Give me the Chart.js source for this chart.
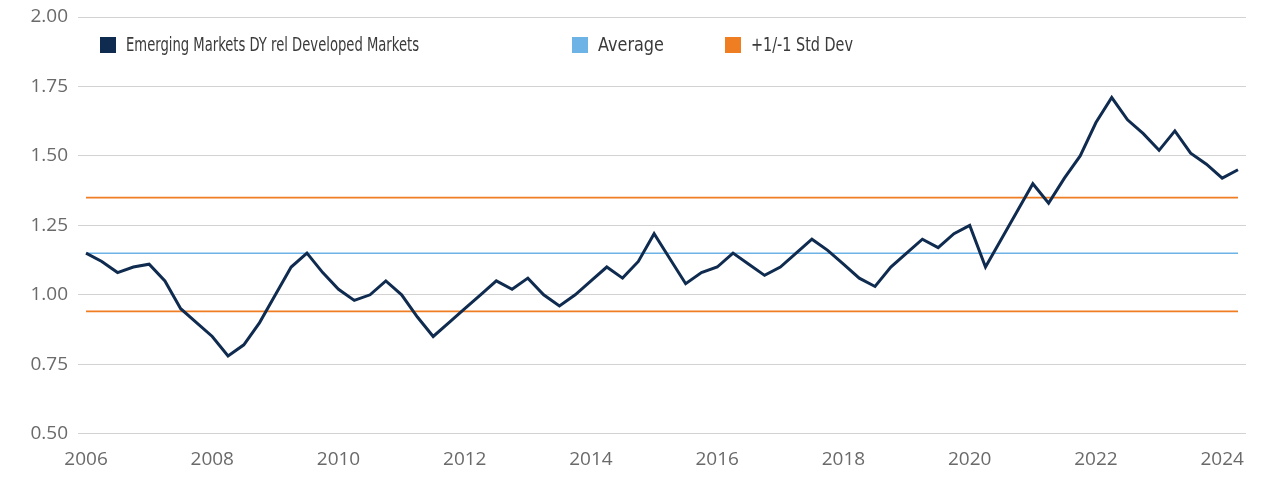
<!DOCTYPE html>
<html>
<head>
<meta charset="utf-8">
<title>EM DY rel DM</title>
<script src="https://cdn.jsdelivr.net/npm/chart.js@4.4.1/dist/chart.umd.min.js"></script>
<style>
  html, body { margin: 0; padding: 0; background: #fff; }
  #wrap { width: 1280px; height: 491px; position: relative; }
</style>
</head>
<body>
<div id="wrap"><canvas id="myChart"></canvas></div>
<script>
//////////////////////
// data
//////////////////////

// quarterly, starting Q1 2006
const startYear = 2006;
const dyRel = [
  1.15, 1.12, 1.08, 1.10, 1.11, 1.05, 0.95, 0.90, 0.85, 0.78,
  0.82, 0.90, 1.00, 1.10, 1.15, 1.08, 1.02, 0.98, 1.00, 1.05,
  1.00, 0.92, 0.85, 0.90, 0.95, 1.00, 1.05, 1.02, 1.06, 1.00,
  0.96, 1.00, 1.05, 1.10, 1.06, 1.12, 1.22, 1.13, 1.04, 1.08,
  1.10, 1.15, 1.11, 1.07, 1.10, 1.15, 1.20, 1.16, 1.11, 1.06,
  1.03, 1.10, 1.15, 1.20, 1.17, 1.22, 1.25, 1.10, 1.20, 1.30,
  1.40, 1.33, 1.42, 1.50, 1.62, 1.71, 1.63, 1.58, 1.52, 1.59,
  1.51, 1.47, 1.42, 1.45
];
const averageValue = 1.15;
const stdUpper = 1.35;
const stdLower = 0.94;
const yearTicks = [2006, 2008, 2010, 2012, 2014, 2016, 2018, 2020, 2022, 2024];
const yTicks = [0.50, 0.75, 1.00, 1.25, 1.50, 1.75, 2.00];
const seriesNames = ['Emerging Markets DY rel Developed Markets', 'Average', '+1/-1 Std Dev'];

const navy = '#0f2b4f';
const lightBlue = '#6db3e5';
const orange = '#ef7d22';

//////////////////////
// build chart data
//////////////////////
const xYears = dyRel.map((v, i) => startYear + i / 4);

function toPoints(vals) {
  return vals.map((v, i) => ({ x: xYears[i], y: v }));
}

const avgLine = dyRel.map(() => averageValue);
const upperLine = dyRel.map(() => stdUpper);
const lowerLine = dyRel.map(() => stdLower);

// legend drawn inside the plot, like the original
const legendPlugin = {
  id: 'insideLegend',
  afterDraw(chart) {
    const ctx = chart.ctx;
    const items = [
      { text: seriesNames[0], color: navy, x: 100, w: 293 },
      { text: seriesNames[1], color: lightBlue, x: 572, w: 66 },
      { text: seriesNames[2], color: orange, x: 725, w: 102 }
    ];
    ctx.save();
    ctx.font = '19px "DejaVu Sans Condensed", "Liberation Sans", sans-serif';
    ctx.textBaseline = 'middle';
    for (let i = 0; i < items.length; i++) {
      const it = items[i];
      ctx.fillStyle = it.color;
      ctx.fillRect(it.x, 37, 16, 16);
      ctx.fillStyle = '#3a3a3a';
      ctx.fillText(it.text, it.x + 26, 46, it.w);
    }
    ctx.restore();
  }
};

const tickFont = { family: '"Open Sans", sans-serif', size: 19 };

const config = {
  type: 'line',
  data: {
    datasets: [
      {
        label: seriesNames[0],
        data: toPoints(dyRel),
        borderColor: navy,
        borderWidth: 3,
        pointRadius: 0,
        tension: 0,
        order: 0
      },
      {
        label: seriesNames[1],
        data: toPoints(avgLine),
        borderColor: lightBlue,
        borderWidth: 1.5,
        pointRadius: 0,
        order: 2
      },
      {
        label: seriesNames[2],
        data: toPoints(upperLine),
        borderColor: orange,
        borderWidth: 1.8,
        pointRadius: 0,
        order: 1
      },
      {
        label: seriesNames[2] + ' (lower)',
        data: toPoints(lowerLine),
        borderColor: orange,
        borderWidth: 1.8,
        pointRadius: 0,
        order: 1
      }
    ]
  },
  options: {
    responsive: true,
    maintainAspectRatio: false,
    animation: false,
    layout: { padding: { left: 0, right: 34, top: 17, bottom: 0 } },
    plugins: {
      legend: { display: false },
      tooltip: { enabled: false }
    },
    scales: {
      x: {
        type: 'linear',
        min: 2005.873,
        max: 2024.377,
        afterBuildTicks: (scale) => {
          scale.ticks = yearTicks.map(v => ({ value: v }));
        },
        afterFit: (scale) => {
          scale.height = 57.3;
          scale.paddingLeft = 0;
          scale.paddingRight = 0;
        },
        grid: { display: false, drawTicks: false },
        border: { display: false },
        ticks: {
          font: tickFont,
          color: '#6a6a6a',
          padding: 14,
          maxRotation: 0,
          autoSkip: false,
          callback: (v) => String(v)
        }
      },
      y: {
        min: 0.5,
        max: 2.0,
        afterBuildTicks: (scale) => {
          scale.ticks = yTicks.map(v => ({ value: v }));
        },
        afterFit: (scale) => {
          scale.width = 78;
          scale.paddingTop = 0;
          scale.paddingBottom = 0;
        },
        grid: { color: '#d2d2d2', lineWidth: 1, drawTicks: false },
        border: { display: false },
        ticks: {
          font: tickFont,
          color: '#6a6a6a',
          padding: 10,
          callback: (v) => v.toFixed(2)
        }
      }
    }
  },
  plugins: [legendPlugin]
};

const canvasChart = document.getElementById('myChart');
const myChart = new Chart(canvasChart, config);
</script>
</body>
</html>
